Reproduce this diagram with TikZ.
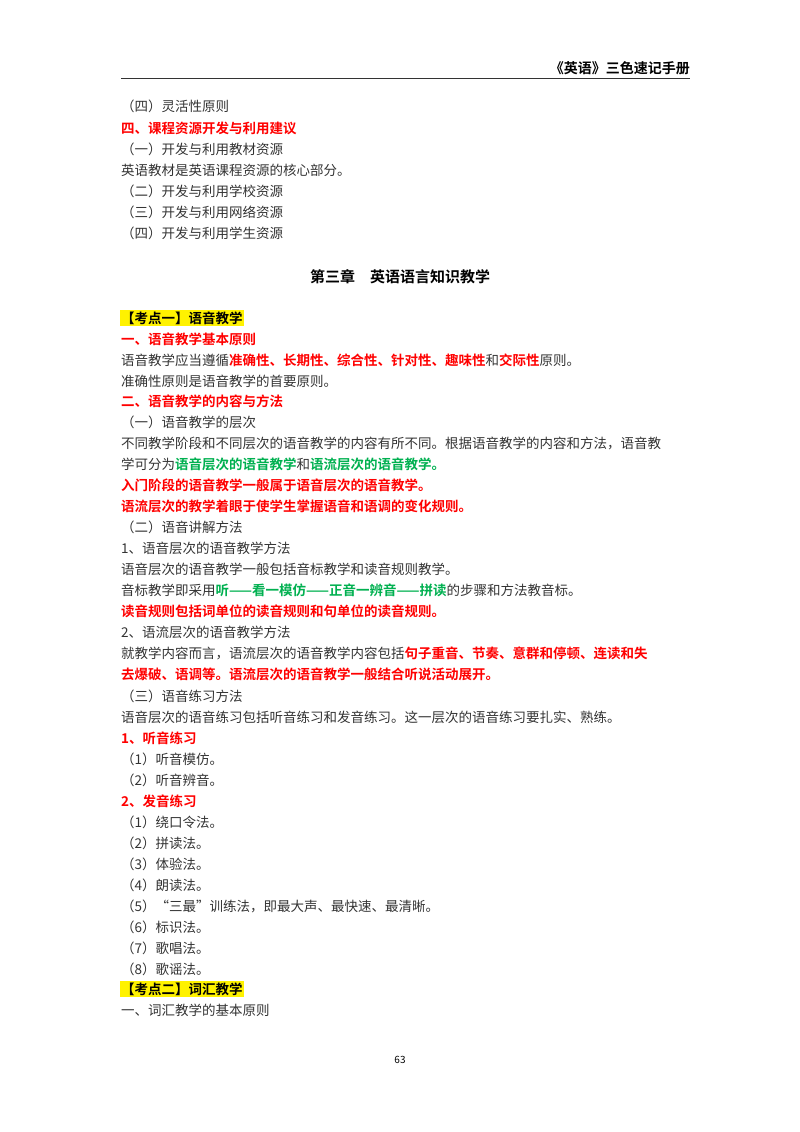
\documentclass[tikz,border=0pt]{standalone}
\usepackage{fontspec}
\setmainfont{Noto Sans CJK SC}[BoldFont={Noto Sans CJK SC Bold}]
\definecolor{txt}{HTML}{333333}
\definecolor{rd}{HTML}{FF0000}
\definecolor{gr}{HTML}{00B050}
\newcommand{\R}[1]{{\color{rd}\bfseries #1}}
\newcommand{\G}[1]{{\color{gr}\bfseries #1}}
\tikzset{ln/.style={anchor=west,inner sep=0pt,font=\fontsize{13.5}{14}\selectfont,text=txt},
 hd/.style={ln,text=rd,font=\fontsize{13.5}{14}\selectfont\bfseries},
 hl/.style={ln,fill=yellow,inner sep=1.5pt,text=black,font=\fontsize{13.5}{14}\selectfont\bfseries}}
\begin{document}
\begin{tikzpicture}[x=1pt,y=-1pt]
\useasboundingbox (0,0) rectangle (800,1132);
\node[anchor=east,inner sep=0pt,font=\fontsize{14}{15}\selectfont\bfseries] (h) at (690,68) {《英语》三色速记手册};
\draw[line width=0.8pt,black!80] (121,78) -- (690,78);
\node[ln] (l1) at (121,106) {（四）灵活性原则};
\node[hd] (l2) at (121,128) {四、课程资源开发与利用建议};
\node[ln] (l3) at (121,149) {（一）开发与利用教材资源};
\node[ln] (l4) at (121,170) {英语教材是英语课程资源的核心部分。};
\node[ln] (l5) at (121,191) {（二）开发与利用学校资源};
\node[ln] (l6) at (121,212) {（三）开发与利用网络资源};
\node[ln] (l7) at (121,233) {（四）开发与利用学生资源};
\node[inner sep=0pt,font=\fontsize{15}{16}\selectfont\bfseries] (ch) at (400,277) {第三章\quad 英语语言知识教学};
\node[hl] (k1) at (119.5,318) {【考点一】语音教学};
\node[hd] (a1) at (121,339) {一、语音教学基本原则};
\node[ln] (a2) at (121,360) {语音教学应当遵循\R{准确性、长期性、综合性、针对性、趣味性}和\R{交际性}原则。};
\node[ln] (a3) at (121,381) {准确性原则是语音教学的首要原则。};
\node[hd] (a4) at (121,401) {二、语音教学的内容与方法};
\node[ln] (a5) at (121,422) {（一）语音教学的层次};
\node[ln] (a6) at (121,443) {不同教学阶段和不同层次的语音教学的内容有所不同。根据语音教学的内容和方法，语音教};
\node[ln] (a7) at (121,464) {学可分为\G{语音层次的语音教学}和\G{语流层次的语音教学。}};
\node[hd] (a8) at (121,485) {入门阶段的语音教学一般属于语音层次的语音教学。};
\node[hd] (a9) at (121,506) {语流层次的教学着眼于使学生掌握语音和语调的变化规则。};
\node[ln] (b1) at (121,527) {（二）语音讲解方法};
\node[ln] (b2) at (121,548) {1、语音层次的语音教学方法};
\node[ln] (b3) at (121,569) {语音层次的语音教学一般包括音标教学和读音规则教学。};
\node[ln] (b4) at (121,590) {音标教学即采用\G{听——看一模仿——正音一辨音——拼读}的步骤和方法教音标。};
\node[hd] (b5) at (121,611) {读音规则包括词单位的读音规则和句单位的读音规则。};
\node[ln] (b6) at (121,632) {2、语流层次的语音教学方法};
\node[ln] (b7) at (121,653) {就教学内容而言，语流层次的语音教学内容包括\R{句子重音、节奏、意群和停顿、连读和失}};
\node[hd] (b8) at (121,674) {去爆破、语调等。语流层次的语音教学一般结合听说活动展开。};
\node[ln] (c1) at (121,696) {（三）语音练习方法};
\node[ln] (c2) at (121,717) {语音层次的语音练习包括听音练习和发音练习。这一层次的语音练习要扎实、熟练。};
\node[hd] (c3) at (121,738) {1、听音练习};
\node[ln] (c4) at (121,759) {（1）听音模仿。};
\node[ln] (c5) at (121,780) {（2）听音辨音。};
\node[hd] (c6) at (121,801) {2、发音练习};
\node[ln] (d1) at (121,822) {（1）绕口令法。};
\node[ln] (d2) at (121,843) {（2）拼读法。};
\node[ln] (d3) at (121,864) {（3）体验法。};
\node[ln] (d4) at (121,885) {（4）朗读法。};
\node[ln] (d5) at (121,906) {（5）“三最”训练法，即最大声、最快速、最清晰。};
\node[ln] (d6) at (121,927) {（6）标识法。};
\node[ln] (d7) at (121,948) {（7）歌唱法。};
\node[ln] (d8) at (121,969) {（8）歌谣法。};
\node[hl] (k2) at (119.5,989) {【考点二】词汇教学};
\node[ln] (e1) at (121,1010) {一、词汇教学的基本原则};
\node[inner sep=0pt,font=\fontsize{10}{11}\selectfont] (pg) at (400,1060) {63};
\end{tikzpicture}
\end{document}
